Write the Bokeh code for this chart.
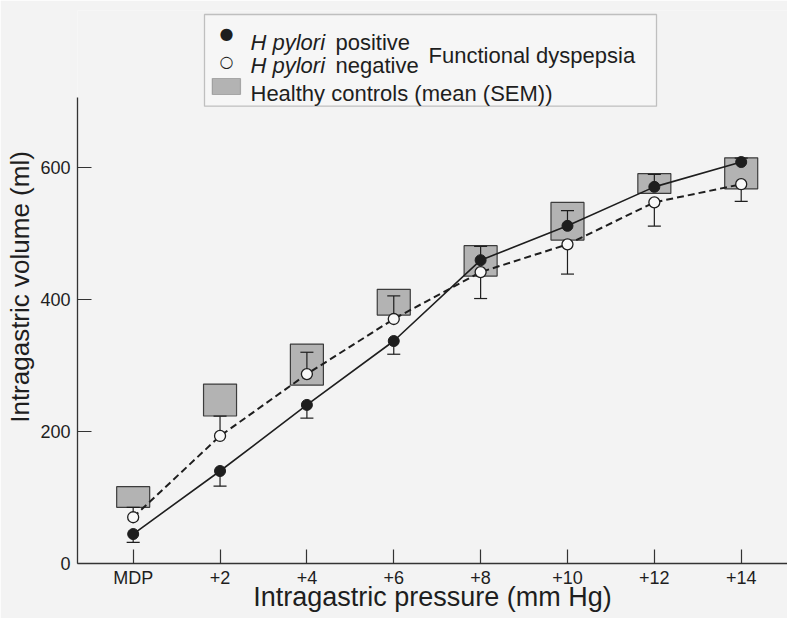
from bokeh.plotting import figure
from bokeh.models import FixedTicker, Range1d, Label, BoxAnnotation
from bokeh.embed import file_html
from bokeh.resources import INLINE

# ---- data ----
pressure_labels = ["MDP", "+2", "+4", "+6", "+8", "+10", "+12", "+14"]
pos_mean = [44.6, 140, 240, 336.7, 459, 511, 570, 607.6]   # H pylori positive
pos_sem = [12.6, 23, 20, 20, 21, 23, 19, 6]
pos_dir = [-1, -1, -1, -1, 1, 1, 1, 1]                     # side on which SEM bar is drawn
neg_mean = [70, 193, 286.7, 370, 441, 483, 546.6, 574]      # H pylori negative
neg_sem = [15, 30, 33, 35, 40, 45, 36, 26]
neg_dir = [1, 1, 1, 1, -1, -1, -1, -1]
ctrl_mean = [100.6, 247.4, 301, 395.5, 458, 518, 575, 590.5]  # healthy controls
ctrl_sem = [15.6, 24.2, 31, 19.5, 23, 28.5, 15, 23.5]
y_ticks = [0, 200, 400, 600]

FONT = "Liberation Sans"
INK = "#1e1e1e"
BG = "#f3f3f3"
BOX_FILL = "#b3b3b3"

x = list(range(len(pressure_labels)))

p = figure(width=787, height=618, output_backend="svg", toolbar_location=None,
           x_range=Range1d(-0.641, 7.533), y_range=Range1d(0, 836.9),
           min_border_left=77, min_border_right=0, min_border_top=10, min_border_bottom=55)
p.background_fill_color = BG
p.border_fill_color = BG
p.outline_line_color = None
p.grid.visible = False

# healthy controls mean (SEM) boxes
p.rect(x=x, y=ctrl_mean, width=0.38, height=[2 * s for s in ctrl_sem],
       fill_color=BOX_FILL, line_color="#3c3c3c", line_width=1.2)

# lines
p.line(x, pos_mean, line_color=INK, line_width=1.6)
p.line(x, neg_mean, line_color=INK, line_width=2, line_dash="7 4")

# error bars
cap = 0.075
for mean, sem, d in ((pos_mean, pos_sem, pos_dir), (neg_mean, neg_sem, neg_dir)):
    ends = [m + dd * s for m, s, dd in zip(mean, sem, d)]
    p.segment(x0=x, y0=mean, x1=x, y1=ends, line_color=INK, line_width=1.2)
    p.segment(x0=[xi - cap for xi in x], y0=ends, x1=[xi + cap for xi in x], y1=ends,
              line_color=INK, line_width=1.2)

# markers
p.scatter(x, pos_mean, size=11, fill_color=INK, line_color=INK)
p.scatter(x, neg_mean, size=11, fill_color="#f8f8f8", line_color=INK, line_width=1.3)

# axes
xa = p.xaxis[0]
xa.ticker = FixedTicker(ticks=x)
xa.major_label_overrides = {i: lab for i, lab in zip(x, pressure_labels)}
xa.minor_tick_line_color = None
xa.major_tick_in = 14
xa.major_tick_out = 0
xa.axis_line_color = "#333333"
xa.axis_line_width = 1.3
xa.major_tick_line_color = "#333333"
xa.major_tick_line_width = 1.2
xa.major_label_text_font = FONT
xa.major_label_text_font_size = "18px"
xa.major_label_text_color = INK
xa.major_label_standoff = 4
xa.axis_label = "Intragastric pressure (mm Hg)"
xa.axis_label_text_font = FONT
xa.axis_label_text_font_size = "27px"
xa.axis_label_text_font_style = "normal"
xa.axis_label_text_color = INK
xa.axis_label_standoff = -9

ya = p.yaxis[0]
ya.ticker = FixedTicker(ticks=y_ticks)
ya.bounds = (0, 705)
ya.minor_tick_line_color = None
ya.major_tick_in = 14
ya.major_tick_out = 0
ya.axis_line_color = "#333333"
ya.axis_line_width = 1.3
ya.major_tick_line_color = "#333333"
ya.major_tick_line_width = 1.2
ya.major_label_text_font = FONT
ya.major_label_text_font_size = "18px"
ya.major_label_text_color = INK
ya.major_label_standoff = 7
ya.axis_label = "Intragastric volume (ml)"
ya.axis_label_text_font = FONT
ya.axis_label_text_font_size = "26px"
ya.axis_label_text_font_style = "normal"
ya.axis_label_text_color = INK
ya.axis_label_standoff = 2


def lab(xx, yy, txt, size="22px", style="normal", font=FONT, align="left", base="alphabetic"):
    p.add_layout(Label(x=xx, y=yy, x_units="screen", y_units="screen", text=txt,
                       text_font=font, text_font_size=size, text_font_style=style,
                       text_color=INK, text_align=align, text_baseline=base))


# ---- legend (screen units, relative to the frame's bottom-left) ----
p.add_layout(BoxAnnotation(left=127, right=579, bottom=457.3, top=549,
                           left_units="screen", right_units="screen",
                           bottom_units="screen", top_units="screen",
                           fill_color="#f6f6f6", fill_alpha=1.0,
                           line_color="#444444", line_width=1.3))
p.add_layout(BoxAnnotation(left=134.7, right=163, bottom=469, top=485,
                           left_units="screen", right_units="screen",
                           bottom_units="screen", top_units="screen",
                           fill_color=BOX_FILL, fill_alpha=1.0,
                           line_color="#3c3c3c", line_width=1.2))

lab(149, 529.7, "\u25cf", size="16px", font="DejaVu Sans", align="center", base="middle")
lab(149, 502, "\u25cb", size="16px", font="DejaVu Sans", align="center", base="middle")
lab(173, 521.3, "H pylori", style="italic")
lab(258, 521.3, "positive")
lab(173, 498, "H pylori", style="italic")
lab(258, 498, "negative")
lab(173, 470.3, "Healthy controls (mean (SEM))")
lab(351, 508, "Functional dyspepsia")

open("out.html", "w").write(file_html(p, INLINE))
